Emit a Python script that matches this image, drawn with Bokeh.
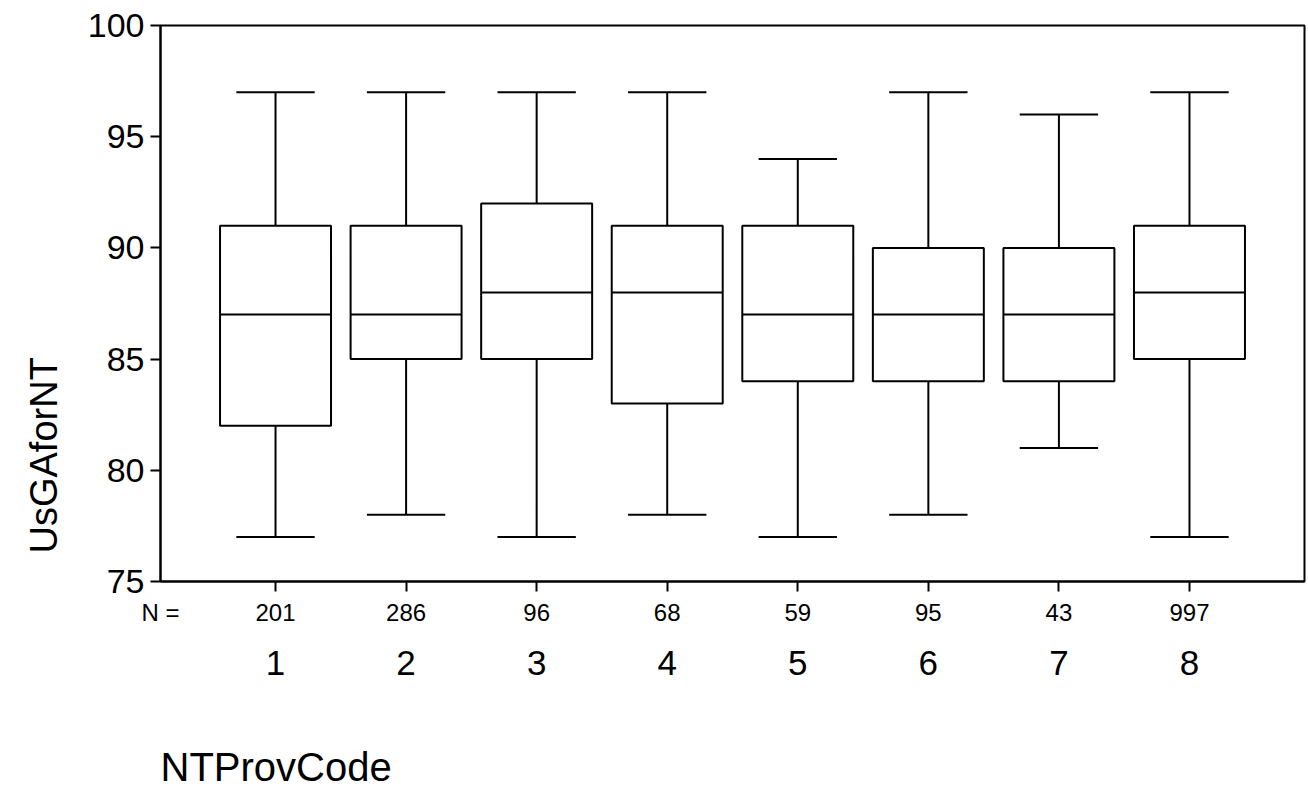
from bokeh.plotting import figure
from bokeh.models import ColumnDataSource, LinearAxis, FixedTicker, Range1d, Title
from bokeh.embed import file_html
from bokeh.resources import INLINE

# ---- data ----
codes = [1, 2, 3, 4, 5, 6, 7, 8]
n_counts = ["201", "286", "96", "68", "59", "95", "43", "997"]
lower_whisker = [77, 78, 77, 78, 77, 78, 81, 77]
q1 = [82, 85, 85, 83, 84, 84, 84, 85]
median = [87, 87, 88, 88, 87, 87, 87, 88]
q3 = [91, 91, 92, 91, 91, 90, 90, 91]
upper_whisker = [97, 97, 97, 97, 94, 97, 96, 97]
y_ticks = [75, 80, 85, 90, 95, 100]

FONT = "Liberation Sans"
box_w = 0.85
cap_w = 0.6
X_START, X_END = 0.119, 8.881
N_POS = 0.12  # "N =" caption sits at the left edge of the frame

src = ColumnDataSource(dict(
    x=codes, lw=lower_whisker, q1=q1, med=median, q3=q3, uw=upper_whisker,
    bl=[c - box_w / 2 for c in codes], br=[c + box_w / 2 for c in codes],
    cl=[c - cap_w / 2 for c in codes], cr=[c + cap_w / 2 for c in codes],
))

p = figure(frame_width=1144, frame_height=556, output_backend="svg", toolbar_location=None,
           x_range=Range1d(X_START, X_END), y_range=Range1d(75, 100),
           x_axis_location=None, y_axis_location="left")
p.min_border_left = 160
p.min_border_right = 2
p.min_border_top = 25
p.min_border_bottom = 200
p.xgrid.visible = False
p.ygrid.visible = False
p.outline_line_color = "black"
p.outline_line_width = 2
p.outline_line_alpha = 1
p.background_fill_color = "white"
p.border_fill_color = "white"

# y axis
ya = p.yaxis[0]
ya.ticker = FixedTicker(ticks=y_ticks)
ya.major_tick_out = 10
ya.major_tick_in = 0
ya.minor_tick_out = 0
ya.minor_tick_in = 0
ya.axis_line_width = 2
ya.major_tick_line_width = 2
ya.major_label_text_font = FONT
ya.major_label_text_font_size = "34px"
ya.major_label_text_color = "black"
ya.major_label_standoff = 6

# x axis with N counts (tick marks drawn as minor ticks at the codes)
overrides = {N_POS: "N ="}
overrides.update({c: n for c, n in zip(codes, n_counts)})
xa = LinearAxis(ticker=FixedTicker(ticks=[N_POS] + codes, minor_ticks=codes),
                major_label_overrides=overrides)
xa.major_tick_out = 0
xa.major_tick_in = 0
xa.minor_tick_out = 10
xa.minor_tick_in = 0
xa.minor_tick_line_width = 2
xa.minor_tick_line_color = "black"
xa.axis_line_width = 2
xa.major_label_text_font = FONT
xa.major_label_text_font_size = "24px"
xa.major_label_text_color = "black"
xa.major_label_standoff = 7
p.add_layout(xa, "below")

# x axis with category codes
xb = LinearAxis(ticker=FixedTicker(ticks=codes),
                major_label_overrides={c: str(c) for c in codes})
xb.major_tick_out = 0
xb.major_tick_in = 0
xb.minor_tick_out = 0
xb.minor_tick_in = 0
xb.axis_line_color = None
xb.major_tick_line_color = None
xb.major_label_text_font = FONT
xb.major_label_text_font_size = "35px"
xb.major_label_text_color = "black"
xb.major_label_standoff = 22
p.add_layout(xb, "below")

# boxes
lw = 2
p.segment(x0="x", y0="q3", x1="x", y1="uw", source=src, line_color="black", line_width=lw)
p.segment(x0="x", y0="lw", x1="x", y1="q1", source=src, line_color="black", line_width=lw)
p.segment(x0="cl", y0="uw", x1="cr", y1="uw", source=src, line_color="black", line_width=lw)
p.segment(x0="cl", y0="lw", x1="cr", y1="lw", source=src, line_color="black", line_width=lw)
p.vbar(x="x", width=box_w, top="q3", bottom="q1", source=src,
       fill_color="white", line_color="black", line_width=lw)
p.segment(x0="bl", y0="med", x1="br", y1="med", source=src, line_color="black", line_width=lw)

# axis titles
p.add_layout(Title(text="UsGAforNT", align="left", offset=28, standoff=40,
                   text_font=FONT, text_font_size="38px", text_font_style="normal",
                   text_color="black"), "left")
p.add_layout(Title(text="NTProvCode", align="left", text_font=FONT, text_font_size="40px",
                   text_font_style="normal", text_color="black", standoff=130), "below")

open("out.html", "w").write(file_html(p, INLINE))
